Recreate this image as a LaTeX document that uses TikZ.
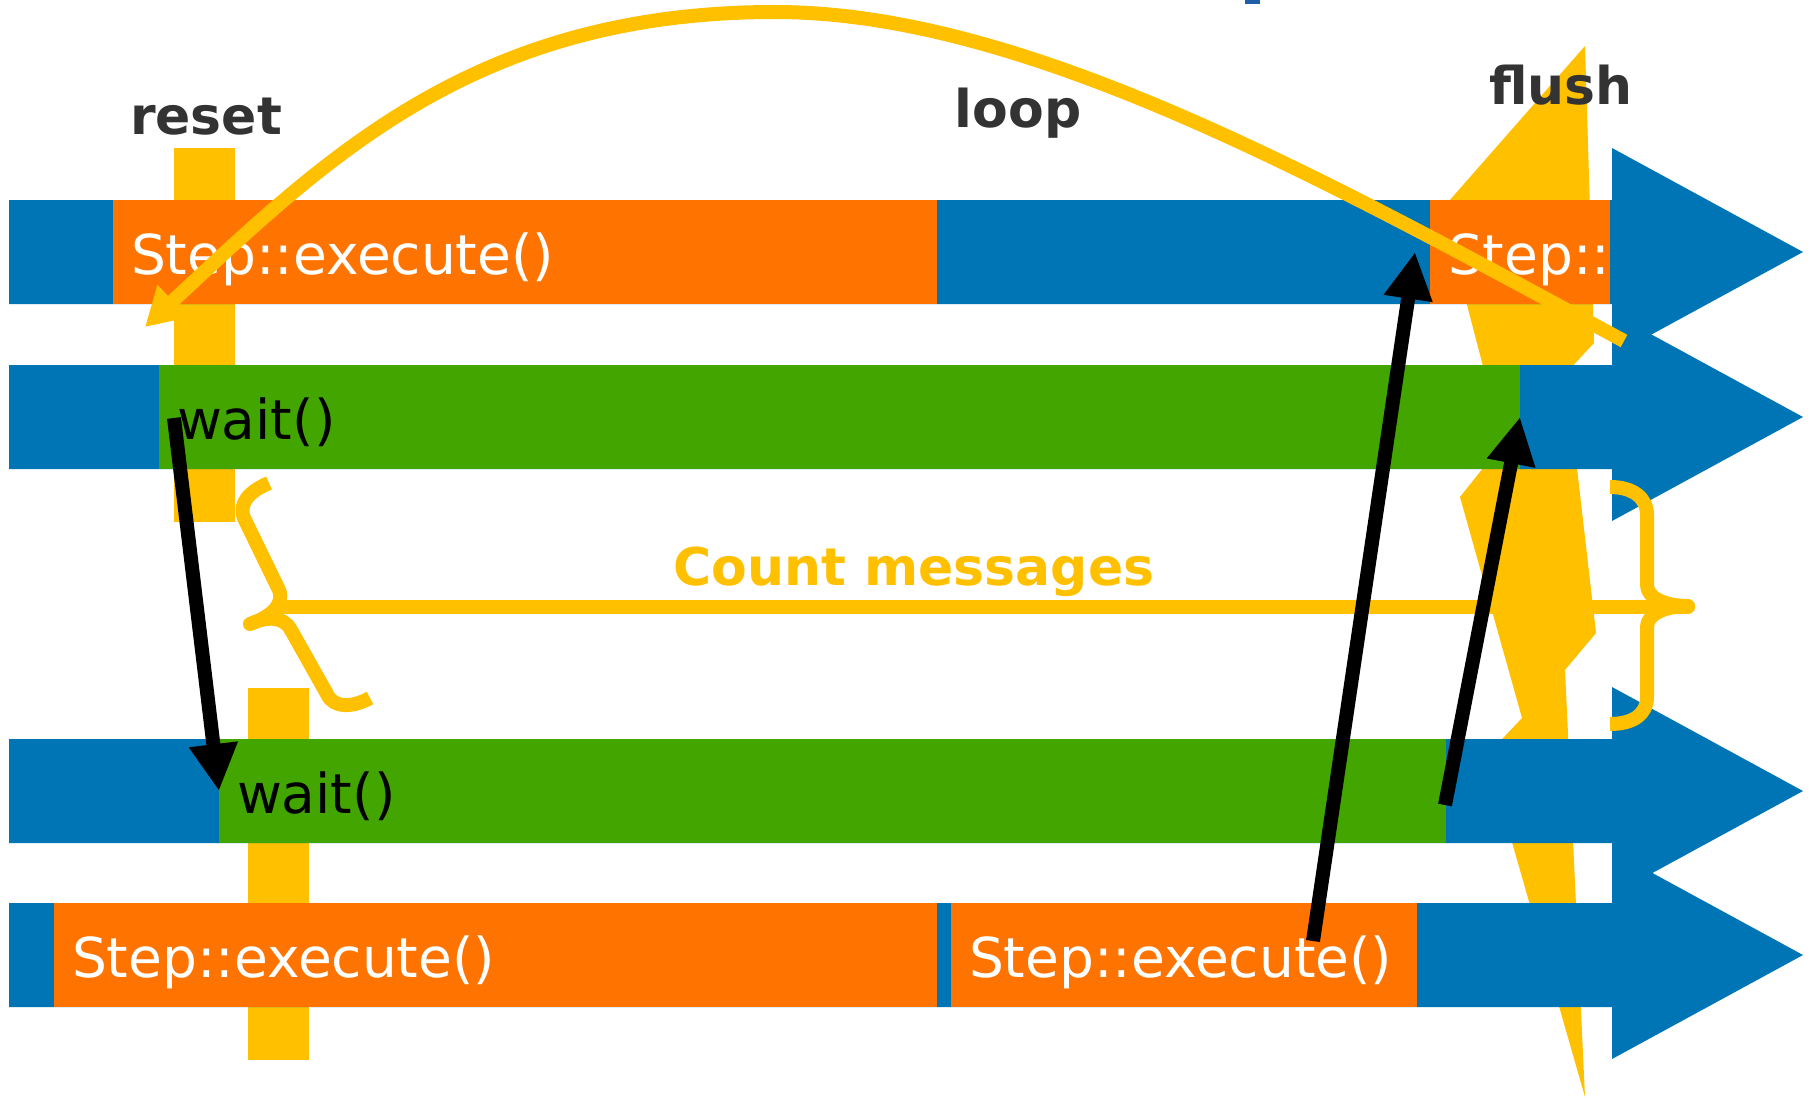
\documentclass[tikz,border=0pt]{standalone}
\usepackage{fontspec}
\setmainfont{DejaVu Sans}
\usetikzlibrary{arrows.meta,calc}

\definecolor{laneblue}{HTML}{0075B6}
\definecolor{execorange}{HTML}{FF7300}
\definecolor{waitgreen}{HTML}{43A600}
\definecolor{markyellow}{HTML}{FFC000}
\definecolor{labelgray}{HTML}{333333}
\definecolor{titleblue}{HTML}{1F5FA8}

\begin{document}
\begin{tikzpicture}[x=1pt,y=-1pt,
  seg/.style={anchor=west, minimum height=104pt, inner xsep=18pt, inner ysep=0pt,
    outer sep=0pt, text height=44pt, text depth=0pt, align=left,
    font=\fontsize{55}{60}\selectfont},
  exec/.style={seg, fill=execorange, text=white},
  waitseg/.style={seg, fill=waitgreen, text=black},
  phase/.style={font=\fontsize{52}{60}\selectfont\bfseries, text=labelgray,
    anchor=base, inner sep=0pt},
  sync/.style={draw=black, line width=14pt, -{Triangle[length=47pt,width=46pt]}},
  hl/.style={draw=markyellow, line width=14pt},
]
% canvas
\fill[white] (0,0) rectangle (1811,1097);
\useasboundingbox (0,0) rectangle (1811,1097);

% phase markers behind the lanes
\fill[markyellow] (174,148) rectangle (235,522);
\fill[markyellow] (248,688) rectangle (309,1060);
\fill[markyellow] (1585,46) -- (1594,343) -- (1566,373) -- (1596,633) -- (1565,670)
  -- (1585,1097) -- (1487,755) -- (1522,718) -- (1460,497) -- (1503,443)
  -- (1442,209) -- cycle;

% thread lanes with arrow heads
\foreach \c in {252,417,791,955}
  \fill[laneblue] (9,\c-52) -- (1612,\c-52) -- (1612,\c-104) -- (1803,\c)
    -- (1612,\c+104) -- (1612,\c+52) -- (9,\c+52) -- cycle;

% activity segments
\node[exec, minimum width=824pt, text width=788pt] (o1a) at (113,252) {Step::execute()};
\node[exec, minimum width=180pt, text width=144pt] (o1b) at (1430,252) {Step::};
\node[waitseg, minimum width=1361pt, text width=1325pt] (g2) at (159,417) {wait()};
\node[waitseg, minimum width=1227pt, text width=1191pt] (g3) at (219,791) {wait()};
\node[exec, minimum width=883pt, text width=847pt] (o4a) at (54,955) {Step::execute()};
\node[exec, minimum width=466pt, text width=430pt] (o4b) at (951,955) {Step::execute()};

% braces around the counting span
\coordinate (lbrace) at (282,607);
\coordinate (rbrace) at (1688,607);
\draw[hl, line join=round] (269,483) .. controls (250,491) and (238,503) .. (244,518)
  -- (279,590) .. controls (285,605) and (270,617) .. (250,624)
  .. controls (265,617) and (283,615) .. (291,630)
  -- (327,694) .. controls (333,708) and (352,708) .. (370,698);
\draw[hl, line join=round] (1610,487) .. controls (1632,487) and (1647,497) .. (1647,515)
  -- (1647,585) .. controls (1647,598) and (1665,606) .. (1688,606)
  .. controls (1665,606) and (1647,614) .. (1647,627)
  -- (1647,697) .. controls (1647,715) and (1632,724) .. (1610,724);
\draw[hl, line cap=round] (lbrace) -- (rbrace);

% synchronisation arrows
\coordinate (wakeA) at ($(g2.west)+(15,1)$);
\coordinate (wakeB) at ($(o4b.west)+(362,-14)$);
\coordinate (hitB) at ($(o1b.west)+(-15,0)$);
\coordinate (wakeC) at ($(g3.east)+(-1,14)$);
\draw[sync] (wakeA) -- (g3.west);
\draw[sync] (wakeB) -- (hitB);
\draw[sync] (wakeC) -- (g2.east);

% loop back from flush to reset
\coordinate (flushEnd) at (1624,341);
\coordinate (loopTop) at (775,12);
\coordinate (resetEnd) at (145,327);
\draw[hl, -{Triangle[length=38pt,width=42pt]}]
  (flushEnd) .. controls (1324,179) and (1025,12) .. (loopTop)
  .. controls (475,12) and (327,157) .. (resetEnd);

% phase labels
\node[phase] (reset) at (206,135) {reset};
\node[phase] (loop) at (1018,128) {loop};
\node[phase] (flush) at (1561,105) {flush};
\node[phase, text=markyellow] (count) at (914,585) {Count messages};

% edge of the heading above
\fill[titleblue] (1245,0) rectangle (1260,4);
\end{tikzpicture}
\end{document}
